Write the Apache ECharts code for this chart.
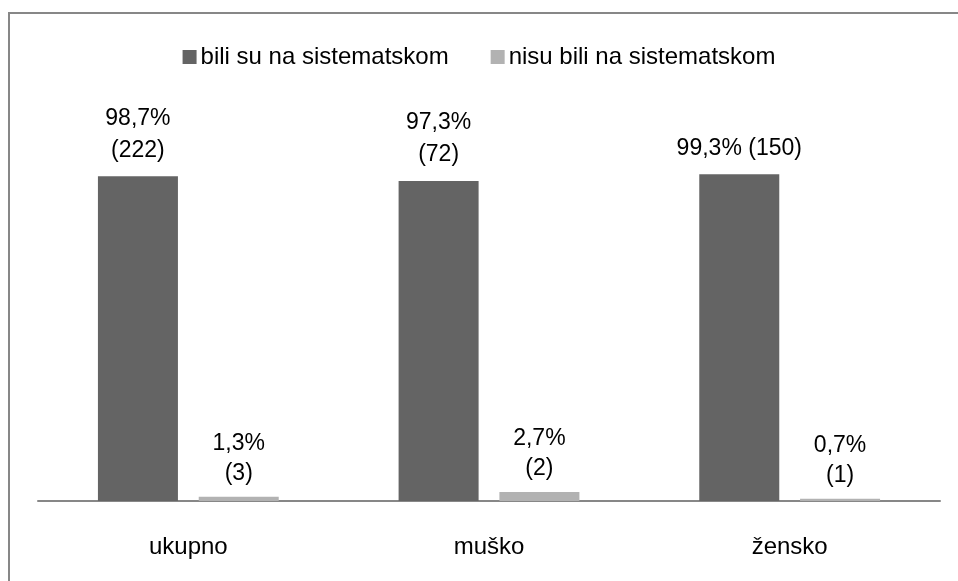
<!DOCTYPE html>
<html lang="hr">
<head>
    <meta charset="UTF-8">
    <title>Sistematski pregled</title>
    <script src="https://cdn.jsdelivr.net/npm/echarts@6/dist/echarts.min.js"></script>
    <style>
        body { margin: 0; background: #fff; }
        #chart { width: 958px; height: 581px; }
    </style>
</head>
<body>
<div id="chart"></div>
<script>
    // podaci
    var categories = ['ukupno', 'muško', 'žensko'];
    var seriesNames = ['bili su na sistematskom', 'nisu bili na sistematskom'];
    var biliPct = [98.7, 97.3, 99.3];
    var biliN = [222, 72, 150];
    var nisuPct = [1.3, 2.7, 0.7];
    var nisuN = [3, 2, 1];
    // razmak izmedju postotka i broja u oznaci
    var biliSep = ['\n', '\n', ' '];
    var nisuSep = ['\n', '\n', '\n'];

    function fmt(v) {
        return v.toFixed(1).replace('.', ',') + '%';
    }

    var textFont = 'Liberation Sans';

    var chart = echarts.init(document.getElementById('chart'));
    var option = {
        animation: false,
        graphic: [{
            type: 'rect',
            shape: { x: 9, y: 13, width: 1000, height: 620 },
            style: { fill: 'none', stroke: '#878787', lineWidth: 2 },
            silent: true
        }],
        legend: {
            top: 40,
            left: 'center',
            itemWidth: 14,
            itemHeight: 14,
            itemGap: 42,
            icon: 'rect',
            textStyle: { fontFamily: textFont, fontSize: 24, color: '#000', padding: [0, 0, 0, -1] },
            data: seriesNames
        },
        grid: { left: 38, right: 18, top: 172, bottom: 80 },
        xAxis: {
            type: 'category',
            data: categories,
            axisLine: { lineStyle: { color: '#878787', width: 2 } },
            axisTick: { show: false },
            axisLabel: { fontFamily: textFont, fontSize: 24, color: '#000', margin: 34 }
        },
        yAxis: {
            type: 'value',
            min: 0,
            max: 100,
            show: false,
            splitLine: { show: false }
        },
        series: [
            {
                name: seriesNames[0],
                type: 'bar',
                barWidth: 80,
                barGap: '26%',
                itemStyle: { color: '#646464' },
                label: {
                    show: true,
                    position: 'top',
                    distance: 10,
                    fontFamily: textFont,
                    fontSize: 23,
                    lineHeight: 32,
                    color: '#000',
                    formatter: function (p) {
                        return fmt(biliPct[p.dataIndex]) + biliSep[p.dataIndex] + '(' + biliN[p.dataIndex] + ')';
                    }
                },
                data: biliPct
            },
            {
                name: seriesNames[1],
                type: 'bar',
                barWidth: 80,
                itemStyle: { color: '#b2b2b2' },
                label: {
                    show: true,
                    position: 'top',
                    distance: 8,
                    fontFamily: textFont,
                    fontSize: 23,
                    lineHeight: 30,
                    color: '#000',
                    formatter: function (p) {
                        return fmt(nisuPct[p.dataIndex]) + nisuSep[p.dataIndex] + '(' + nisuN[p.dataIndex] + ')';
                    }
                },
                data: nisuPct
            }
        ]
    };
    chart.setOption(option);
</script>
</body>
</html>
